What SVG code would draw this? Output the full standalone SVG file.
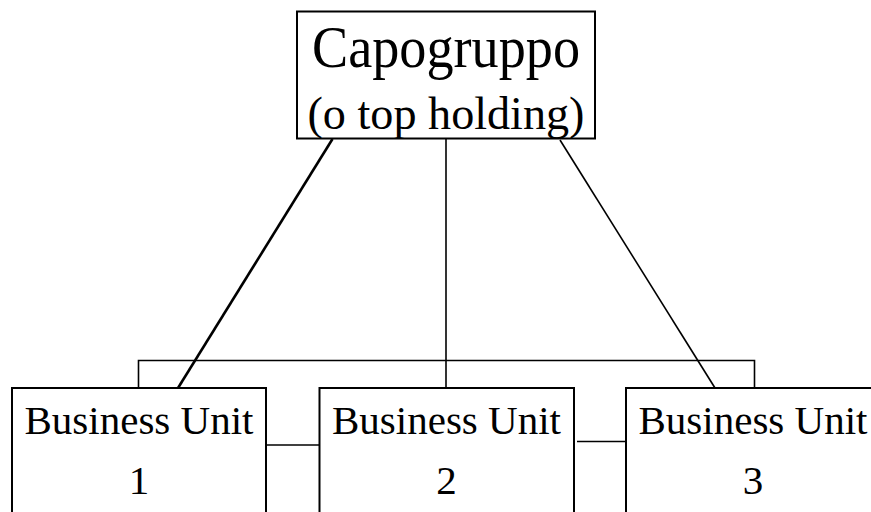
<svg xmlns="http://www.w3.org/2000/svg" width="871" height="512" viewBox="0 0 871 512">
<style>
.box{fill:#fff;stroke:#000;stroke-width:2}
.t{font-family:"Liberation Serif","Times New Roman",serif;fill:#000;text-anchor:middle}
.c{fill:none;stroke:#000;stroke-width:1.6}
</style>
<rect width="871" height="512" fill="#fff"/>
<g id="connectors">
<polyline class="c" points="138.5,388 138.5,360.5 754.5,360.5 754.5,388"/>
<line class="c" x1="446" y1="138.5" x2="446" y2="388"/>
<line class="c" x1="332.5" y1="139" x2="178" y2="388" style="stroke-width:2.6"/>
<line class="c" x1="560" y1="140" x2="715" y2="388"/>
<line class="c" x1="266" y1="445" x2="319" y2="445"/>
<line class="c" x1="577" y1="441.5" x2="628" y2="441.5"/>
</g>
<g id="capogruppo">
<rect class="box" x="297" y="11.5" width="298" height="127"/>
<text class="t" x="446" y="67" font-size="60" textLength="268" lengthAdjust="spacingAndGlyphs">Capogruppo</text>
<text class="t" x="446" y="129" font-size="47" textLength="277" lengthAdjust="spacingAndGlyphs">(o top holding)</text>
</g>
<g id="bu1">
<rect class="box" x="12" y="388" width="254" height="200"/>
<text class="t" x="139" y="434" font-size="41">Business Unit</text>
<text class="t" x="139" y="494" font-size="41">1</text>
</g>
<g id="bu2">
<rect class="box" x="319.5" y="388" width="254.5" height="200"/>
<text class="t" x="446.5" y="434" font-size="41">Business Unit</text>
<text class="t" x="446.5" y="494" font-size="41">2</text>
</g>
<g id="bu3">
<rect class="box" x="626" y="388" width="254" height="200"/>
<text class="t" x="753" y="434" font-size="41">Business Unit</text>
<text class="t" x="753" y="494" font-size="41">3</text>
</g>
</svg>
